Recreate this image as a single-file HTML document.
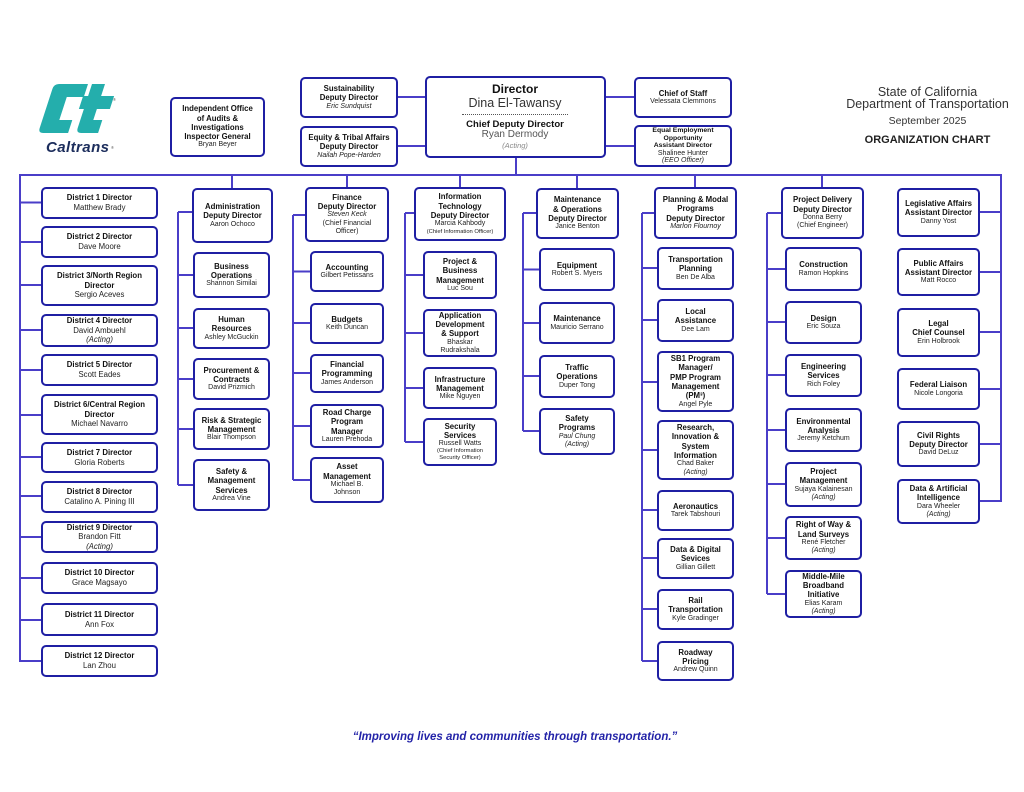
<!DOCTYPE html>
<html><head><meta charset="utf-8">
<style>
body{margin:0;width:1024px;height:792px;background:#fff;position:relative;overflow:hidden;font-family:"Liberation Sans",Arial,sans-serif;color:#111;}
svg{position:absolute;left:0;top:0;}
.b{position:absolute;box-sizing:border-box;border:2px solid #1f1fa3;border-radius:5px;background:#fff;display:flex;flex-direction:column;justify-content:center;align-items:center;text-align:center;}
.b>*{display:block;white-space:nowrap;}
.b b{font-size:7.8px;line-height:9.3px;font-weight:bold;color:#111;}
.b span{font-size:7px;line-height:8.3px;color:#222;}
.b i{font-size:7px;line-height:8.3px;font-style:italic;color:#222;}
.b .s{font-size:5.8px;line-height:7px;}
.d b{font-size:7.8px;line-height:9.6px;}
.d span,.d i{font-size:7.8px;line-height:9.6px;}
.t{position:absolute;text-align:center;white-space:nowrap;}
</style></head><body>
<svg width="1024" height="792" viewBox="0 0 1024 792">
<g transform="translate(54,84) skewX(-18)" fill="#24aeac">
<path d="M5 0 H34 V13 H17 V36 H30 V49 H5 Q0 49 0 44 V5 Q0 0 5 0 Z"/>
<path d="M38 0 H51 V12 H64 V25 H51 V36 H60 V49 H43 Q38 49 38 44 V25 H33 V12 H38 Z"/>
</g>
<text x="46" y="152" font-family="Liberation Sans, sans-serif" font-size="15" font-weight="bold" font-style="italic" fill="#1c2d5c" textLength="63">Caltrans</text>
<text x="113" y="101" font-family="Liberation Sans, sans-serif" font-size="4" fill="#555">®</text>
<text x="111" y="149" font-family="Liberation Sans, sans-serif" font-size="4" fill="#555">®</text>
<g stroke="#4a3ec8" stroke-width="2" fill="none">
<path d="M397 97 H425 M397 146 H425 M605 97 H634 M605 146 H634 M516 157 V175"/>
<path d="M19 175 H1002 M20 175 V662 M1001 175 V502"/>
<path d="M20 202.5 H41 M20 242 H41 M20 285 H41 M20 330 H41 M20 370 H41 M20 415 H41 M20 457 H41 M20 496 H41 M20 537 H41 M20 578 H41 M20 620 H41 M20 661 H41"/>
<path d="M232 175 V188 M347 175 V187 M460 175 V187 M577 175 V188 M695 175 V187 M822 175 V187"/>
<path d="M178 212 V485 M178 212 H193 M178 275 H193 M178 328 H193 M178 379 H193 M178 429 H193 M178 485 H193"/>
<path d="M293 215 V480 M293 215 H306 M293 271.5 H310 M293 323 H310 M293 373 H310 M293 426 H310 M293 480 H310"/>
<path d="M405 213 V442 M405 213 H414 M405 275 H423 M405 333 H423 M405 388 H423 M405 442 H423"/>
<path d="M523 213 V431 M523 213 H536 M523 269.5 H539 M523 323 H539 M523 376 H539 M523 431 H539"/>
<path d="M642 213 V661 M642 213 H654 M642 268 H657 M642 320 H657 M642 382 H657 M642 450 H657 M642 510 H657 M642 558 H657 M642 609 H657 M642 661 H657"/>
<path d="M767 213 V594 M767 213 H781 M767 269 H785 M767 322 H785 M767 375 H785 M767 430 H785 M767 484 H785 M767 538 H785 M767 594 H785"/>
<path d="M980 212 H1001 M980 272 H1001 M980 332 H1001 M980 389 H1001 M980 444 H1001 M980 501 H1001"/>
</g>
</svg>

<!-- top -->
<div class="b" style="left:170px;top:97px;width:95px;height:60px"><b>Independent Office</b><b>of Audits &amp;</b><b>Investigations</b><b>Inspector General</b><span>Bryan Beyer</span></div>
<div class="b" style="left:300px;top:77px;width:98px;height:41px"><b>Sustainability</b><b>Deputy Director</b><i>Eric Sundquist</i></div>
<div class="b" style="left:300px;top:126px;width:98px;height:41px"><b>Equity &amp; Tribal Affairs</b><b>Deputy Director</b><i>Nailah Pope-Harden</i></div>
<div class="b" style="left:425px;top:76px;width:181px;height:82px"></div>
<div class="t" style="left:425px;width:180px;top:82px;font-size:12px;line-height:14px;font-weight:bold;">Director</div>
<div class="t" style="left:425px;width:180px;top:96px;font-size:12.5px;line-height:14px;color:#333;">Dina El-Tawansy</div>
<div style="position:absolute;left:462px;top:114px;width:106px;border-top:1px dotted #555;"></div>
<div class="t" style="left:425px;width:180px;top:119px;font-size:9.5px;line-height:12px;font-weight:bold;">Chief Deputy Director</div>
<div class="t" style="left:425px;width:180px;top:129px;font-size:10px;line-height:12px;color:#555;">Ryan Dermody</div>
<div class="t" style="left:425px;width:180px;top:141px;font-size:7.5px;line-height:10px;font-style:italic;color:#888;">(Acting)</div>
<div class="b" style="left:634px;top:77px;width:98px;height:41px"><b>Chief of Staff</b><span>Velessata Clemmons</span></div>
<div class="b" style="left:634px;top:125px;width:98px;height:42px"><b style="font-size:6.8px;line-height:7.6px">Equal Employment</b><b style="font-size:6.8px;line-height:7.6px">Opportunity</b><b style="font-size:6.8px;line-height:7.6px">Assistant Director</b><span style="line-height:7.6px">Shalinee Hunter</span><i style="line-height:7.6px">(EEO Officer)</i></div>

<div class="t" style="left:840px;width:175px;top:85px;font-size:12.5px;line-height:14px;color:#333;">State of California</div>
<div class="t" style="left:840px;width:175px;top:97px;font-size:12.5px;line-height:14px;color:#333;">Department of Transportation</div>
<div class="t" style="left:840px;width:175px;top:114px;font-size:10.5px;line-height:14px;color:#333;">September 2025</div>
<div class="t" style="left:840px;width:175px;top:133px;font-size:11px;line-height:14px;font-weight:bold;color:#222;">ORGANIZATION CHART</div>

<!-- districts -->
<div class="b d" style="left:41px;top:187px;width:117px;height:32px"><b>District 1 Director</b><span>Matthew Brady</span></div>
<div class="b d" style="left:41px;top:226px;width:117px;height:32px"><b>District 2 Director</b><span>Dave Moore</span></div>
<div class="b d" style="left:41px;top:265px;width:117px;height:41px"><b>District 3/North Region</b><b>Director</b><span>Sergio Aceves</span></div>
<div class="b d" style="left:41px;top:314px;width:117px;height:33px"><b>District 4 Director</b><span>David Ambuehl</span><i>(Acting)</i></div>
<div class="b d" style="left:41px;top:354px;width:117px;height:32px"><b>District 5 Director</b><span>Scott Eades</span></div>
<div class="b d" style="left:41px;top:394px;width:117px;height:41px"><b>District 6/Central Region</b><b>Director</b><span>Michael Navarro</span></div>
<div class="b d" style="left:41px;top:442px;width:117px;height:31px"><b>District 7 Director</b><span>Gloria Roberts</span></div>
<div class="b d" style="left:41px;top:481px;width:117px;height:32px"><b>District 8 Director</b><span>Catalino A. Pining III</span></div>
<div class="b d" style="left:41px;top:521px;width:117px;height:32px"><b>District 9 Director</b><span>Brandon Fitt</span><i>(Acting)</i></div>
<div class="b d" style="left:41px;top:562px;width:117px;height:32px"><b>District 10 Director</b><span>Grace Magsayo</span></div>
<div class="b d" style="left:41px;top:603px;width:117px;height:33px"><b>District 11 Director</b><span>Ann Fox</span></div>
<div class="b d" style="left:41px;top:645px;width:117px;height:32px"><b>District 12 Director</b><span>Lan Zhou</span></div>

<!-- administration -->
<div class="b" style="left:192px;top:188px;width:81px;height:55px"><b>Administration</b><b>Deputy Director</b><span>Aaron Ochoco</span></div>
<div class="b" style="left:193px;top:252px;width:77px;height:46px"><b>Business</b><b>Operations</b><span>Shannon Similai</span></div>
<div class="b" style="left:193px;top:308px;width:77px;height:41px"><b>Human</b><b>Resources</b><span>Ashley McGuckin</span></div>
<div class="b" style="left:193px;top:358px;width:77px;height:42px"><b>Procurement &amp;</b><b>Contracts</b><span>David Prizmich</span></div>
<div class="b" style="left:193px;top:408px;width:77px;height:42px"><b>Risk &amp; Strategic</b><b>Management</b><span>Blair Thompson</span></div>
<div class="b" style="left:193px;top:459px;width:77px;height:52px"><b>Safety &amp;</b><b>Management</b><b>Services</b><span>Andrea Vine</span></div>

<!-- finance -->
<div class="b" style="left:305px;top:187px;width:84px;height:55px"><b>Finance</b><b>Deputy Director</b><i>Steven Keck</i><span>(Chief Financial</span><span>Officer)</span></div>
<div class="b" style="left:310px;top:251px;width:74px;height:41px"><b>Accounting</b><span>Gilbert Petissans</span></div>
<div class="b" style="left:310px;top:303px;width:74px;height:41px"><b>Budgets</b><span>Keith Duncan</span></div>
<div class="b" style="left:310px;top:354px;width:74px;height:39px"><b>Financial</b><b>Programming</b><span>James Anderson</span></div>
<div class="b" style="left:310px;top:404px;width:74px;height:44px"><b>Road Charge</b><b>Program</b><b>Manager</b><span>Lauren Prehoda</span></div>
<div class="b" style="left:310px;top:457px;width:74px;height:46px"><b>Asset</b><b>Management</b><span>Michael B.</span><span>Johnson</span></div>

<!-- IT -->
<div class="b" style="left:414px;top:187px;width:92px;height:54px"><b>Information</b><b>Technology</b><b>Deputy Director</b><span>Marcia Kahbody</span><span class="s">(Chief Information Officer)</span></div>
<div class="b" style="left:423px;top:251px;width:74px;height:48px"><b>Project &amp;</b><b>Business</b><b>Management</b><span>Luc Sou</span></div>
<div class="b" style="left:423px;top:309px;width:74px;height:48px"><b>Application</b><b>Development</b><b>&amp; Support</b><span>Bhaskar</span><span>Rudrakshala</span></div>
<div class="b" style="left:423px;top:367px;width:74px;height:42px"><b>Infrastructure</b><b>Management</b><span>Mike Nguyen</span></div>
<div class="b" style="left:423px;top:418px;width:74px;height:48px"><b>Security</b><b>Services</b><span>Russell Watts</span><span class="s">(Chief Information</span><span class="s">Security Officer)</span></div>

<!-- maintenance -->
<div class="b" style="left:536px;top:188px;width:83px;height:51px"><b>Maintenance</b><b>&amp; Operations</b><b>Deputy Director</b><span>Janice Benton</span></div>
<div class="b" style="left:539px;top:248px;width:76px;height:43px"><b>Equipment</b><span>Robert S. Myers</span></div>
<div class="b" style="left:539px;top:302px;width:76px;height:42px"><b>Maintenance</b><span>Mauricio Serrano</span></div>
<div class="b" style="left:539px;top:355px;width:76px;height:43px"><b>Traffic</b><b>Operations</b><span>Duper Tong</span></div>
<div class="b" style="left:539px;top:408px;width:76px;height:47px"><b>Safety</b><b>Programs</b><i>Paul Chung</i><i>(Acting)</i></div>

<!-- planning -->
<div class="b" style="left:654px;top:187px;width:83px;height:52px"><b>Planning &amp; Modal</b><b>Programs</b><b>Deputy Director</b><i>Marlon Flournoy</i></div>
<div class="b" style="left:657px;top:247px;width:77px;height:43px"><b>Transportation</b><b>Planning</b><span>Ben De Alba</span></div>
<div class="b" style="left:657px;top:299px;width:77px;height:43px"><b>Local</b><b>Assistance</b><span>Dee Lam</span></div>
<div class="b" style="left:657px;top:351px;width:77px;height:61px"><b>SB1 Program</b><b>Manager/</b><b>PMP Program</b><b>Management</b><b>(PM³)</b><span>Angel Pyle</span></div>
<div class="b" style="left:657px;top:420px;width:77px;height:60px"><b>Research,</b><b>Innovation &amp;</b><b>System</b><b>Information</b><span>Chad Baker</span><i>(Acting)</i></div>
<div class="b" style="left:657px;top:490px;width:77px;height:41px"><b>Aeronautics</b><span>Tarek Tabshouri</span></div>
<div class="b" style="left:657px;top:538px;width:77px;height:41px"><b>Data &amp; Digital</b><b>Sevices</b><span>Gillian Gillett</span></div>
<div class="b" style="left:657px;top:589px;width:77px;height:41px"><b>Rail</b><b>Transportation</b><span>Kyle Gradinger</span></div>
<div class="b" style="left:657px;top:641px;width:77px;height:40px"><b>Roadway</b><b>Pricing</b><span>Andrew Quinn</span></div>

<!-- project delivery -->
<div class="b" style="left:781px;top:187px;width:83px;height:52px"><b>Project Delivery</b><b>Deputy Director</b><span>Donna Berry</span><span>(Chief Engineer)</span></div>
<div class="b" style="left:785px;top:247px;width:77px;height:44px"><b>Construction</b><span>Ramon Hopkins</span></div>
<div class="b" style="left:785px;top:301px;width:77px;height:43px"><b>Design</b><span>Eric Souza</span></div>
<div class="b" style="left:785px;top:354px;width:77px;height:43px"><b>Engineering</b><b>Services</b><span>Rich Foley</span></div>
<div class="b" style="left:785px;top:408px;width:77px;height:44px"><b>Environmental</b><b>Analysis</b><span>Jeremy Ketchum</span></div>
<div class="b" style="left:785px;top:462px;width:77px;height:45px"><b>Project</b><b>Management</b><span>Sujaya Kalainesan</span><i>(Acting)</i></div>
<div class="b" style="left:785px;top:516px;width:77px;height:44px"><b>Right of Way &amp;</b><b>Land Surveys</b><span>René Fletcher</span><i>(Acting)</i></div>
<div class="b" style="left:785px;top:570px;width:77px;height:48px"><b>Middle-Mile</b><b>Broadband</b><b>Initiative</b><span>Elias Karam</span><i>(Acting)</i></div>

<!-- right column -->
<div class="b" style="left:897px;top:188px;width:83px;height:49px"><b>Legislative Affairs</b><b>Assistant Director</b><span>Danny Yost</span></div>
<div class="b" style="left:897px;top:248px;width:83px;height:48px"><b>Public Affairs</b><b>Assistant Director</b><span>Matt Rocco</span></div>
<div class="b" style="left:897px;top:308px;width:83px;height:49px"><b>Legal</b><b>Chief Counsel</b><span>Erin Holbrook</span></div>
<div class="b" style="left:897px;top:368px;width:83px;height:42px"><b>Federal Liaison</b><span>Nicole Longoria</span></div>
<div class="b" style="left:897px;top:421px;width:83px;height:46px"><b>Civil Rights</b><b>Deputy Director</b><span>David DeLuz</span></div>
<div class="b" style="left:897px;top:479px;width:83px;height:45px"><b>Data &amp; Artificial</b><b>Intelligence</b><span>Dara Wheeler</span><i>(Acting)</i></div>

<div class="t" style="left:0;width:1030px;top:730px;font-size:11.5px;line-height:14px;font-weight:bold;font-style:italic;color:#2323a8;">“Improving lives and communities through transportation.”</div>
</body></html>
